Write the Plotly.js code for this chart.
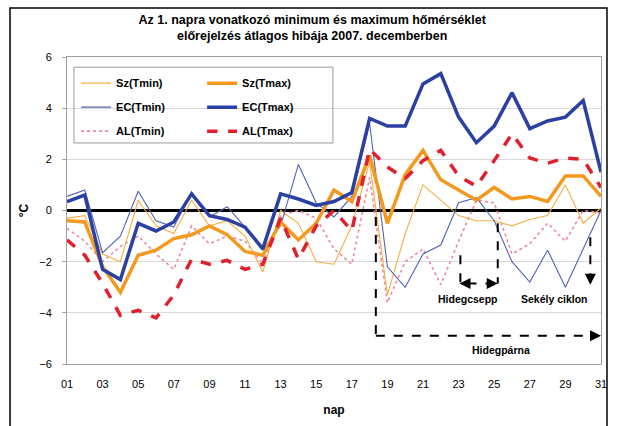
<!DOCTYPE html>
<html>
<head>
<meta charset="utf-8">
<script src="https://cdn.plot.ly/plotly-3.0.1.min.js"></script>
<style>html,body{margin:0;padding:0;background:#fff;}#chart{width:617px;height:426px;}</style>
</head>
<body>
<div id="chart"></div>
<script>
var days = [1,2,3,4,5,6,7,8,9,10,11,12,13,14,15,16,17,18,19,20,21,22,23,24,25,26,27,28,29,30,31];
var tickVals = [1,3,5,7,9,11,13,15,17,19,21,23,25,27,29,31];
var tickText = ["01","03","05","07","09","11","13","15","17","19","21","23","25","27","29","31"];
var yTicks = [-6,-4,-2,0,2,4,6];

var szTmin = [-0.3,-0.2,-1.7,-2.0,0.4,-0.6,-0.9,0.4,-0.6,-0.4,-1.0,-2.4,0.0,-0.5,-2.0,-2.1,-0.6,1.9,-3.3,-0.9,1.0,0.4,-0.2,-0.4,-0.4,-0.6,-0.35,-0.2,1.0,-0.5,0.1];
var szTmax = [-0.4,-0.45,-2.2,-3.2,-1.75,-1.55,-1.1,-0.95,-0.6,-0.95,-1.6,-1.75,-0.45,-1.15,-0.5,0.8,0.35,2.15,-0.5,1.4,2.35,1.2,0.8,0.4,0.9,0.45,0.55,0.35,1.35,1.35,0.55];
var ecTmin = [0.55,0.8,-1.65,-1.0,0.75,-0.4,-0.65,0.72,-0.25,0.15,-0.65,-1.55,-0.6,1.8,0.3,-0.25,0.55,3.4,-2.2,-3.0,-1.7,-1.35,0.3,0.5,-0.4,-2.0,-2.8,-1.55,-3.0,-1.5,0.0];
var ecTmax = [0.35,0.6,-2.3,-2.7,-0.5,-0.8,-0.45,0.65,-0.2,-0.35,-0.65,-1.5,0.65,0.45,0.2,0.35,0.7,3.6,3.3,3.3,4.95,5.35,3.65,2.65,3.3,4.6,3.2,3.5,3.65,4.3,1.5];
var alTmin = [-0.7,-1.2,-2.0,-1.4,-1.0,-1.7,-2.3,-0.6,-1.3,-1.0,-1.2,-2.1,-0.2,0.0,-0.3,-1.5,-2.1,1.3,-3.6,-2.0,-1.5,-2.9,-1.2,0.4,0.3,-1.7,-1.3,-0.5,-1.2,0.0,-0.1];
var alTmax = [-1.15,-1.75,-2.85,-4.1,-3.9,-4.2,-3.3,-1.9,-2.1,-1.95,-2.3,-2.1,-0.3,-1.9,-0.6,0.0,-0.8,2.4,1.7,1.25,1.95,2.35,1.35,0.95,1.95,3.0,2.05,1.85,2.05,2.0,0.9];

var seriesNames = ["Sz(Tmin)","Sz(Tmax)","EC(Tmin)","EC(Tmax)","AL(Tmin)","AL(Tmax)"];

var FONT = "Liberation Sans, Arial, sans-serif";

function tr(name, y, color, width, dash, legend, group, rank) {
  return {x: days, y: y, type: 'scatter', mode: 'lines', name: name,
    line: {color: color, width: width, dash: dash}, legend: legend, legendgroup: group, legendrank: rank, hoverinfo: 'skip'};
}

var data = [
  tr(seriesNames[4], alTmin, '#EA8AA0', 1.6, 'dot', 'legend', 'g3', 3),
  tr(seriesNames[0], szTmin, '#F5AE45', 1.1, 'solid', 'legend', 'g1', 1),
  tr(seriesNames[2], ecTmin, '#5363B5', 1.1, 'solid', 'legend', 'g2', 2),
  tr(seriesNames[1], szTmax, '#F39A1E', 3.5, 'solid', 'legend2', 'h1', 1),
  tr(seriesNames[5], alTmax, '#E0202E', 3.5, 'dash', 'legend2', 'h3', 3),
  tr(seriesNames[3], ecTmax, '#2A40A3', 3.5, 'solid', 'legend2', 'h2', 2)
];

var dashBlack = {color: '#000', width: 2, dash: 'dash'};
var shapes = [
  {type: 'rect', xref: 'paper', yref: 'paper', x0: -0.1067, x1: 1.0112, y0: -0.215, y1: 1.16, line: {color: '#000', width: 1.5}, layer: 'below'},
  {type: 'rect', xref: 'paper', yref: 'paper', x0: 0.013, x1: 0.498, y0: 0.72, y1: 0.967, line: {color: '#9a9a9a', width: 1}, fillcolor: 'rgba(255,255,255,0)', layer: 'above'},
  // Hidegpárna
  {type: 'line', xref: 'x', yref: 'y', x0: 18.35, x1: 18.35, y0: -0.25, y1: -4.9, line: dashBlack, layer: 'above'},
  {type: 'line', xref: 'x', yref: 'y', x0: 18.35, x1: 30.6, y0: -4.9, y1: -4.9, line: dashBlack, layer: 'above'},
  // Hidegcsepp
  {type: 'line', xref: 'x', yref: 'y', x0: 23.1, x1: 23.1, y0: -1.75, y1: -2.85, line: dashBlack, layer: 'above'},
  {type: 'line', xref: 'x', yref: 'y', x0: 25.2, x1: 25.2, y0: -0.5, y1: -2.85, line: dashBlack, layer: 'above'},
  {type: 'line', xref: 'x', yref: 'y', x0: 23.5, x1: 24.8, y0: -2.85, y1: -2.85, line: dashBlack, layer: 'above'},
  // Sekély ciklon
  {type: 'line', xref: 'x', yref: 'y', x0: 30.4, x1: 30.4, y0: -1.05, y1: -2.5, line: dashBlack, layer: 'above'}
];

function head(x, y, ax, ay) {
  return {x: x, y: y, xref: 'x', yref: 'y', ax: ax, ay: ay, text: '', showarrow: true,
    arrowhead: 2, arrowsize: 1.1, arrowwidth: 2, arrowcolor: '#000', standoff: 0};
}
function label(x, y, t) {
  return {x: x, y: y, xref: 'x', yref: 'y', text: '<b>' + t + '</b>', showarrow: false,
    font: {family: FONT, size: 10.5, color: '#000'}};
}

var annotations = [
  head(31, -4.9, -10, 0),
  head(23.05, -2.85, 10, 0),
  head(25.2, -2.85, -10, 0),
  head(30.4, -2.9, 0, -10),
  label(23.5, -3.45, 'Hidegcsepp'),
  label(28.4, -3.45, 'Sekély ciklon'),
  label(25.4, -5.45, 'Hidegpárna')
];

var layout = {
  width: 617, height: 426,
  margin: {l: 67, r: 16, t: 57, b: 62},
  paper_bgcolor: '#fff', plot_bgcolor: '#fff',
  font: {family: FONT, size: 11, color: '#000'},
  title: {text: '<b>Az 1. napra vonatkozó minimum és maximum hőmérséklet<br>előrejelzés átlagos hibája 2007. decemberben</b>',
    x: 0.506, xanchor: 'center', y: 0.944, yanchor: 'middle', font: {family: FONT, size: 12.5, color: '#000'}},
  xaxis: {range: [1, 31], tickvals: tickVals, ticktext: tickText, showgrid: false, zeroline: false,
    showline: true, linecolor: '#a0a0a0', linewidth: 1, mirror: true, ticks: '', tickfont: {size: 11}, ticklabelstandoff: 10,
    title: {text: '<b>nap</b>', font: {size: 12}, standoff: 16}},
  yaxis: {range: [-6, 6], tickvals: yTicks, showgrid: true, gridcolor: '#d9d9d9', gridwidth: 1,
    zeroline: true, zerolinecolor: '#000', zerolinewidth: 2.2,
    showline: true, linecolor: '#a0a0a0', linewidth: 1, mirror: true, ticks: 'outside', ticklen: 4, tickcolor: '#a0a0a0', tickfont: {size: 11}, ticklabelstandoff: 8,
    title: {text: '<b>°C</b>', font: {size: 12}, standoff: 8}},
  legend: {x: 0.017, y: 0.962, xanchor: 'left', yanchor: 'top', bgcolor: 'rgba(0,0,0,0)', borderwidth: 0,
    font: {family: FONT, size: 11, color: '#000', weight: 'bold'}, tracegroupgap: 5, traceorder: 'grouped'},
  legend2: {x: 0.253, y: 0.962, xanchor: 'left', yanchor: 'top', bgcolor: 'rgba(0,0,0,0)', borderwidth: 0,
    font: {family: FONT, size: 11, color: '#000', weight: 'bold'}, tracegroupgap: 5, traceorder: 'grouped'},
  shapes: shapes,
  annotations: annotations,
  showlegend: true
};

Plotly.newPlot('chart', data, layout, {staticPlot: true, displayModeBar: false});
</script>
</body>
</html>
